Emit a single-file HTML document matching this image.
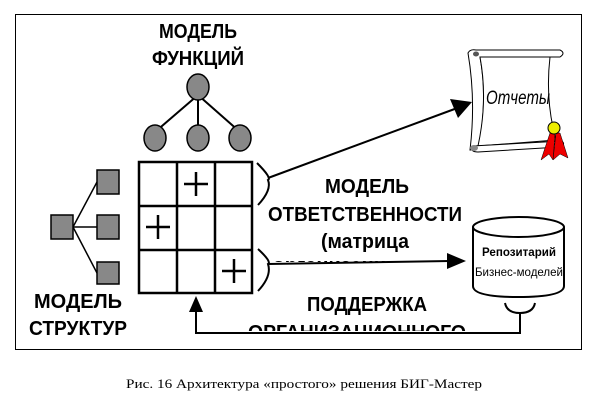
<!DOCTYPE html>
<html><head><meta charset="utf-8"><style>
html,body{margin:0;padding:0;background:#fff;}
svg{display:block}
.b{font-family:"Liberation Sans",sans-serif;font-size:20px;font-weight:bold;fill:#000;}
</style></head><body>
<svg width="600" height="415" viewBox="0 0 600 415" xmlns="http://www.w3.org/2000/svg">
<defs>
<clipPath id="c1"><rect x="0" y="0" width="600" height="262"/></clipPath>
<clipPath id="c2"><rect x="0" y="0" width="600" height="331"/></clipPath>
<clipPath id="c3"><rect x="0" y="0" width="600" height="348"/></clipPath>
</defs>
<rect x="15.5" y="14.5" width="566" height="335" fill="none" stroke="#000" stroke-width="1"/>
<text class="b" x="198" y="38" text-anchor="middle" textLength="78" lengthAdjust="spacingAndGlyphs">МОДЕЛЬ</text>
<text class="b" x="198" y="65" text-anchor="middle" textLength="92" lengthAdjust="spacingAndGlyphs">ФУНКЦИЙ</text>
<g stroke="#000" stroke-width="2">
<line x1="198" y1="95" x2="155" y2="132"/><line x1="198" y1="95" x2="198" y2="132"/><line x1="198" y1="95" x2="240" y2="132"/>
</g>
<g fill="#888" stroke="#000" stroke-width="1.5">
<ellipse cx="198" cy="87" rx="11" ry="13"/>
<ellipse cx="155" cy="138" rx="11" ry="13"/>
<ellipse cx="198" cy="138" rx="11" ry="13"/>
<ellipse cx="240" cy="138" rx="11" ry="13"/>
</g>
<g stroke="#000" stroke-width="2.5" fill="none">
<rect x="139" y="162" width="113" height="131"/>
<line x1="177" y1="162" x2="177" y2="293"/><line x1="215" y1="162" x2="215" y2="293"/>
<line x1="139" y1="206" x2="252" y2="206"/><line x1="139" y1="250" x2="252" y2="250"/>
</g>
<g stroke="#000" stroke-width="2.5">
<line x1="196" y1="172" x2="196" y2="196"/><line x1="184" y1="184" x2="208" y2="184"/>
<line x1="158" y1="215" x2="158" y2="239"/><line x1="146" y1="227" x2="170" y2="227"/>
<line x1="234" y1="259" x2="234" y2="283"/><line x1="222" y1="271" x2="246" y2="271"/>
</g>
<g stroke="#000" stroke-width="1.5">
<line x1="73" y1="227" x2="97" y2="182"/><line x1="73" y1="227" x2="97" y2="227"/><line x1="73" y1="227" x2="97" y2="273"/>
</g>
<g fill="#888" stroke="#000" stroke-width="1.5">
<rect x="51" y="215" width="22" height="24"/>
<rect x="97" y="170" width="22" height="24"/>
<rect x="97" y="215" width="22" height="24"/>
<rect x="97" y="262" width="22" height="22"/>
</g>
<text class="b" x="78" y="308" text-anchor="middle" textLength="88" lengthAdjust="spacingAndGlyphs">МОДЕЛЬ</text>
<text class="b" x="78" y="335" text-anchor="middle" textLength="98" lengthAdjust="spacingAndGlyphs">СТРУКТУР</text>
<text class="b" x="78" y="360" text-anchor="middle" clip-path="url(#c3)">ы</text>
<g stroke="#000" stroke-width="2" fill="none">
<path d="M257 163 Q272 178 268 180 Q272 190 258 205"/>
<path d="M258 249 Q272 262 268 264 Q272 276 258 291"/>
<line x1="268" y1="178" x2="460" y2="107"/>
<path d="M505 303 Q507 313 520 313 Q533 313 535 303"/>
<polyline points="520,313 520,333 196,333 196,310"/>
</g>
<polygon points="472,102 450,99 458,118" fill="#000"/>
<polygon points="196,296 189,312 203,312" fill="#000"/>
<text class="b" x="367" y="193" text-anchor="middle" textLength="84" lengthAdjust="spacingAndGlyphs">МОДЕЛЬ</text>
<text class="b" x="365" y="221" text-anchor="middle" textLength="194" lengthAdjust="spacingAndGlyphs">ОТВЕТСТВЕННОСТИ</text>
<text class="b" x="365" y="248" text-anchor="middle" textLength="88" lengthAdjust="spacingAndGlyphs">(матрица</text>
<text class="b" x="365" y="272" text-anchor="middle" textLength="185" lengthAdjust="spacingAndGlyphs" clip-path="url(#c1)">организационных)</text>
<line x1="268" y1="264" x2="450" y2="261" stroke="#000" stroke-width="2"/>
<polygon points="466,261 447,253 447,269" fill="#000"/>
<text class="b" x="367" y="311" text-anchor="middle" textLength="120" lengthAdjust="spacingAndGlyphs">ПОДДЕРЖКА</text>
<text class="b" x="357" y="339" text-anchor="middle" textLength="218" lengthAdjust="spacingAndGlyphs" clip-path="url(#c2)">ОРГАНИЗАЦИОННОГО</text>
<path d="M473 227 L473 286 Q473 297 518 297 Q564 297 564 286 L564 227" fill="#fff" stroke="#000" stroke-width="2"/>
<ellipse cx="518.5" cy="227" rx="45.5" ry="10" fill="#fff" stroke="#000" stroke-width="2"/>
<text x="519" y="256" text-anchor="middle" font-family="Liberation Sans,sans-serif" font-size="12" font-weight="bold" textLength="74" lengthAdjust="spacingAndGlyphs">Репозитарий</text>
<text x="519" y="276" text-anchor="middle" font-family="Liberation Sans,sans-serif" font-size="12" textLength="88" lengthAdjust="spacingAndGlyphs">Бизнес-моделей</text>
<g stroke="#000" stroke-width="1" fill="#fff">
<path d="M468 53 Q470 49 476 50 L560 50 Q566 53 560 57 L480 57 Q488 100 478 150 L470 150 Q476 100 468 53 Z"/>
<path d="M480 57 L550 57 Q545 100 556 140 L478 146 Q488 100 480 57 Z"/>
<path d="M472 146 L562 141 Q566 145 560 147 L478 152 Q470 152 472 146 Z"/>
</g>
<ellipse cx="476" cy="54" rx="3" ry="2.5" fill="#555"/>
<ellipse cx="474" cy="148" rx="4" ry="3" fill="#888"/>
<text x="518" y="104" text-anchor="middle" font-family="Liberation Sans,sans-serif" font-style="italic" font-size="19" textLength="64" lengthAdjust="spacingAndGlyphs">Отчеты</text>
<polygon points="550,133 541,160 549,154 553,160 555,134" fill="#e00" stroke="#000" stroke-width="0.5"/>
<polygon points="556,133 553,160 560,154 568,158 560,133" fill="#e00" stroke="#000" stroke-width="0.5"/>
<circle cx="554" cy="128" r="6" fill="#ee0" stroke="#000" stroke-width="1"/>
<text x="304" y="388" text-anchor="middle" font-family="Liberation Serif,serif" font-size="13" textLength="356" lengthAdjust="spacingAndGlyphs">Рис. 16  Архитектура «простого» решения БИГ-Мастер</text>
</svg>
</body></html>
